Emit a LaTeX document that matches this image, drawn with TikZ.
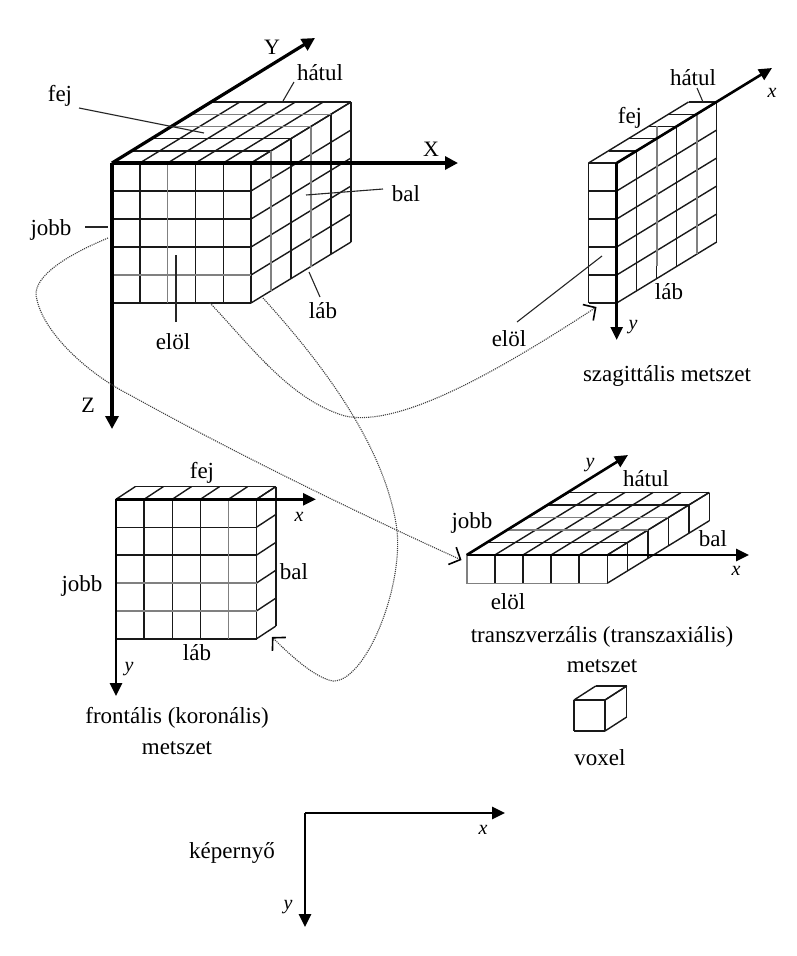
\documentclass[tikz,border=0pt]{standalone}
\usepackage{fontspec}
\setmainfont{Liberation Serif}
\usetikzlibrary{arrows.meta}
\tikzset{
  gridline/.style={line width=1.4pt,black!90},
  softline/.style={line width=1.6pt,black!50},
  axisline/.style={line width=3.2pt,-{Triangle[length=13pt,width=13pt]}},
  axisthin/.style={line width=2.6pt,-{Triangle[length=13pt,width=12pt]}},
  leader/.style={line width=1.1pt,black!85},
  pathway/.style={line width=1.1pt,black!75,densely dotted,-{Straight Barb[length=9pt,width=19pt,line width=1.6pt,black]}},
  tag/.style={inner sep=0pt,font=\fontsize{23}{26}\selectfont},
  axistag/.style={inner sep=0pt,font=\fontsize{20}{24}\selectfont\itshape},
  bigtag/.style={inner sep=0pt,font=\fontsize{22}{24}\selectfont}
}
% Block of voxels: #1,#2 front top-left corner, #3,#4 cell size, #5,#6 columns and rows,
% #7,#8 offset of one depth layer, #9 number of layers
\newcommand{\voxelblock}[9]{%
  \foreach \i in {0,...,#5} {
    \draw[gridline] ({#1+\i*#3},#2) -- ++(0,{#6*#4});
    \draw[gridline] ({#1+\i*#3},#2) -- ++({#9*#7},{#9*#8});
  }
  \foreach \j in {0,...,#6} {
    \draw[gridline] (#1,{#2+\j*#4}) -- ++({#5*#3},0);
    \draw[gridline] ({#1+#5*#3},{#2+\j*#4}) -- ++({#9*#7},{#9*#8});
  }
  \foreach \k in {1,...,#9} {
    \draw[gridline] ({#1+\k*#7},{#2+\k*#8}) -- ++({#5*#3},0);
    \draw[gridline] ({#1+#5*#3+\k*#7},{#2+\k*#8}) -- ++(0,{#6*#4});
  }
}
\begin{document}
\begin{tikzpicture}[x=1pt,y=-1pt]
\useasboundingbox (0,0) rectangle (796,956);

% main volume
\voxelblock{112}{163}{27.8}{28}{5}{5}{20}{-12.2}{5}
\draw[softline] (167.6,163) -- (167.6,303);
\draw[softline] (112,275) -- (251,275);
\draw[softline] (271,151) -- (271,291);
\draw[softline] (311,126.6) -- (311,266.6);
\draw[softline] (172,126.6) -- (311,126.6);
\draw[softline] (192,114.4) -- (331,114.4);
\coordinate (o1) at (112,163);
\coordinate (x1) at (458,163);
\coordinate (y1) at (315,38);
\coordinate (z1) at (112,429);
\draw[axisline] (o1) -- (x1);
\draw[axisline] (o1) -- (y1);
\draw[axisline] (o1) -- (z1);
\node[bigtag] (Ylab) at (272,47) {Y};
\node[bigtag] (Xlab) at (431,149) {X};
\node[bigtag] (Zlab) at (88,405) {Z};
\node[tag] (hatul1) at (320,73) {hátul};
\node[tag] (fej1) at (60,96) {fej};
\node[tag] (bal1) at (406,194) {bal};
\node[tag] (jobb1) at (51,230) {jobb};
\node[tag] (elol1) at (173,342) {elöl};
\node[tag] (lab1) at (323,311) {láb};
\coordinate (t1a) at (294,82);  \coordinate (t1b) at (283,101);
\coordinate (t2a) at (79,108);  \coordinate (t2b) at (204,133);
\coordinate (t3a) at (383,189); \coordinate (t3b) at (306,195);
\coordinate (t4a) at (85,227);  \coordinate (t4b) at (108,227);
\coordinate (t5a) at (176,322); \coordinate (t5b) at (176,255);
\coordinate (t6a) at (320,297); \coordinate (t6b) at (309,272);
\foreach \a/\b in {t1a/t1b,t2a/t2b,t3a/t3b,t4a/t4b,t5a/t5b,t6a/t6b}
  \draw[leader] (\a) -- (\b);

% sagittal slice
\voxelblock{588.5}{163}{28.2}{28}{1}{5}{20}{-12.2}{5}
\draw[softline] (656.7,126.4) -- (656.7,266.4);
\draw[softline] (696.7,114.2) -- ++(0,140);
\coordinate (o2) at (616.7,163);
\coordinate (x2) at (772,68);
\coordinate (y2) at (616.7,340);
\draw[axisthin] (o2) -- (x2);
\draw[axisthin] (o2) -- (y2);
\node[axistag] (x2lab) at (772,93) {x};
\node[axistag] (y2lab) at (633,327) {y};
\node[tag] (hatul2) at (693,78) {hátul};
\node[tag] (fej2) at (630,118) {fej};
\node[tag] (elol2) at (509,339) {elöl};
\node[tag] (lab2) at (669,292) {láb};
\node[tag] (cap2) at (667,376) {szagittális metszet};
\coordinate (t7a) at (697,88);  \coordinate (t7b) at (703,102);
\coordinate (t8a) at (517,322); \coordinate (t8b) at (602,256);
\draw[leader] (t7a) -- (t7b);
\draw[leader] (t8a) -- (t8b);

% frontal slice
\voxelblock{116}{499.3}{28.1}{27.9}{5}{5}{19.3}{-12.7}{1}
\draw[softline] (116,582.9) -- (256.5,582.9);
\draw[softline] (116,610.8) -- (256.5,610.8);
\draw[softline] (228.4,499.3) -- (228.4,638.8);
\coordinate (o3) at (116,499.3);
\coordinate (x3) at (316,499.3);
\coordinate (y3) at (116,696);
\draw[axisthin] (o3) -- (x3);
\draw[axisthin] (o3) -- (y3);
\node[tag] (fej3) at (202,473) {fej};
\node[axistag] (x3lab) at (299,517) {x};
\node[axistag] (y3lab) at (129,669) {y};
\node[tag] (bal3) at (294,572) {bal};
\node[tag] (jobb3) at (82,586) {jobb};
\node[tag] (lab3) at (197,653) {láb};
\node[tag] (cap3a) at (177,718) {frontális (koronális)};
\node[tag] (cap3b) at (177,748) {metszet};

% transverse slice
\voxelblock{466.7}{555}{28.1}{28.3}{5}{1}{20.4}{-12.5}{5}
\draw[softline] (466.7,555) -- (466.7,583.3) -- (607.2,583.3);
\draw[softline] (527.9,517.5) -- (668.4,517.5);
\draw[softline] (507.5,530) -- (648,530);
\coordinate (o4) at (466.7,555);
\coordinate (x4) at (749,555);
\coordinate (y4) at (628,455);
\draw[axisthin] (o4) -- (x4);
\draw[axisthin] (o4) -- (y4);
\node[axistag] (y4lab) at (590,465) {y};
\node[tag] (hatul4) at (646,479) {hátul};
\node[tag] (jobb4) at (472,523) {jobb};
\node[tag] (bal4) at (713,539) {bal};
\node[axistag] (x4lab) at (736,571) {x};
\node[tag] (elol4) at (508,602) {elöl};
\node[tag] (cap4a) at (602,637) {transzverzális (transzaxiális)};
\node[tag] (cap4b) at (602,666) {metszet};

% single voxel
\voxelblock{574}{700}{31}{31}{1}{1}{21.7}{-14}{1}
\node[tag] (voxlab) at (600,758) {voxel};

% screen axes
\coordinate (o5) at (305,813);
\coordinate (x5) at (505,813);
\coordinate (y5) at (305,927);
\draw[axisthin] (o5) -- (x5);
\draw[axisthin] (o5) -- (y5);
\node[axistag] (x5lab) at (483,830) {x};
\node[axistag] (y5lab) at (288,907) {y};
\node[tag] (screen) at (232,853) {képernyő};

% dotted routes from the volume to the slices
\coordinate (p1) at (108,238);
\coordinate (p2) at (461.5,560);
\draw[pathway] (p1) .. controls (60,258) and (30,280) .. (37,300)
  .. controls (45,335) and (90,375) .. (130,395)
  .. controls (220,445) and (340,505) .. (p2);
\coordinate (q1) at (210,303);
\coordinate (q2) at (596.5,307);
\draw[pathway] (q1) .. controls (250,345) and (290,400) .. (345,416)
  .. controls (400,428) and (500,370) .. (q2);
\coordinate (r1) at (263,298);
\coordinate (r2) at (272,637);
\draw[pathway] (r1) .. controls (310,350) and (385,440) .. (397,530)
  .. controls (403,590) and (365,682) .. (333,681)
  .. controls (315,678) and (290,655) .. (r2);
\end{tikzpicture}
\end{document}
